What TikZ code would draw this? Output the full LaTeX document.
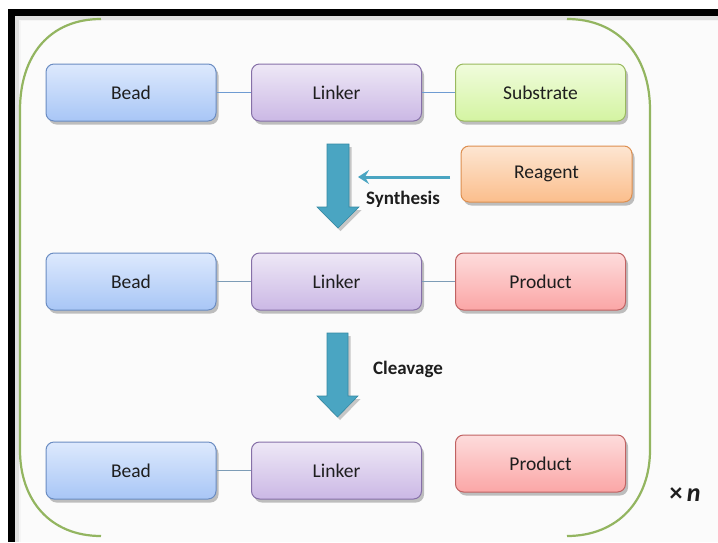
\documentclass[tikz,border=0pt]{standalone}
\usepackage{fontspec}
\setmainfont{Carlito}
\usetikzlibrary{shadows,arrows.meta}
\definecolor{txt}{HTML}{1E1E1E}
\definecolor{beadT}{HTML}{DDE9FD}
\definecolor{beadB}{HTML}{A8C6F6}
\definecolor{beadD}{HTML}{6A8CC2}
\definecolor{linkT}{HTML}{EEE8F6}
\definecolor{linkB}{HTML}{CBB8E5}
\definecolor{linkD}{HTML}{8670A8}
\definecolor{subT}{HTML}{F0FCDC}
\definecolor{subB}{HTML}{D4F4A2}
\definecolor{subD}{HTML}{99B95E}
\definecolor{reaT}{HTML}{FDE6D2}
\definecolor{reaB}{HTML}{FBBE8C}
\definecolor{reaD}{HTML}{DD8F50}
\definecolor{proT}{HTML}{FDDCDC}
\definecolor{proB}{HTML}{FBA6A6}
\definecolor{proD}{HTML}{C06262}
\definecolor{teal}{HTML}{4AA5C2}
\definecolor{tealD}{HTML}{3489A3}
\definecolor{brk}{HTML}{93B560}
\definecolor{conA}{HTML}{6E9BD2}
\definecolor{conB}{HTML}{7D9CB6}
\tikzset{
  box/.style={rounded corners=8pt, minimum width=170pt, minimum height=57pt,
    inner sep=0pt, font=\fontsize{19.5}{22}\selectfont, text=txt, line width=1pt,
    drop shadow={shadow xshift=2.5pt, shadow yshift=-3.5pt, opacity=0.35, fill=black!70}},
  beadbox/.style={box, draw=beadD, top color=beadT, bottom color=beadB},
  linkbox/.style={box, draw=linkD, top color=linkT, bottom color=linkB},
  subbox/.style={box, draw=subD, top color=subT, bottom color=subB},
  reabox/.style={box, draw=reaD, top color=reaT, bottom color=reaB},
  probox/.style={box, draw=proD, top color=proT, bottom color=proB},
  conn1/.style={draw=conA, line width=1pt},
  conn2/.style={draw=conB, line width=1pt},
  bigarrow/.style={fill=teal, draw=tealD, line width=0.6pt,
    drop shadow={shadow xshift=2.5pt, shadow yshift=-3pt, opacity=0.3, fill=black!70}},
  lbl/.style={font=\bfseries\fontsize{19}{22}\selectfont, text=txt},
  bracket/.style={draw=brk, line width=2.2pt}
}
\begin{document}
\begin{tikzpicture}[x=1pt,y=-1pt]
\useasboundingbox (0,0) rectangle (718,542);
% frame
\fill[white] (0,0) rectangle (718,542);
\fill[black!4] (12,12) rectangle (718,542);
\fill[black!12] (15,16) rectangle (718,20);
\fill[black!12] (15,16) rectangle (19,542);
\fill[black] (8,9) rectangle (718,16);
\fill[black] (8,9) rectangle (15,542);
\fill[black!1.5] (21,21) rectangle (718,542);
% brackets
\draw[bracket] (101,19) .. controls (50,19) and (20,55) .. (20,110) -- (20,450) .. controls (20,500) and (50,536) .. (101,536);
\draw[bracket] (567,19) .. controls (618,19) and (650,55) .. (650,110) -- (650,450) .. controls (650,500) and (618,536) .. (567,536);
% row 1
\node[beadbox] (b1) at (131,92.5) {Bead};
\node[linkbox] (l1) at (336.5,92.5) {Linker};
\node[subbox] (s1) at (540.5,92.5) {Substrate};
\node[reabox, minimum width=171pt, minimum height=56pt] (r) at (546.5,174) {Reagent};
% row 2
\node[beadbox] (b2) at (131,281.5) {Bead};
\node[linkbox] (l2) at (336.5,281.5) {Linker};
\node[probox] (p2) at (540.5,281.5) {Product};
% row 3
\node[beadbox] (b3) at (131,470.5) {Bead};
\node[linkbox] (l3) at (336.5,470.5) {Linker};
\node[probox] (p3) at (540.5,463.5) {Product};
% connectors
\draw[conn1] (b1) -- (l1);
\draw[conn1] (l1) -- (s1);
\draw[conn2] (b2) -- (l2);
\draw[conn2] (l2) -- (p2);
\draw[conn2] (b3) -- (l3);
% big arrows
\filldraw[bigarrow] (327,144) -- (349,144) -- (349,207) -- (359,207) -- (338,228) -- (317,207) -- (327,207) -- cycle;
\filldraw[bigarrow] (327,333) -- (348,333) -- (348,396) -- (358,396) -- (337.5,417) -- (317,396) -- (327,396) -- cycle;
% reagent arrow
\coordinate (rstart) at (450,177);
\coordinate (rtip) at (358,177);
\draw[draw=teal, line width=3pt, -{Stealth[length=11pt,width=14pt,inset=4pt]}] (rstart) -- (rtip);
% labels
\node[lbl] (syn) at (403,199) {Synthesis};
\node[lbl] (clv) at (408,369) {Cleavage};
\node[font=\bfseries\fontsize{26}{30}\selectfont, text=txt] (xn) at (685,495) {×\,\textit{n}};
\end{tikzpicture}
\end{document}
